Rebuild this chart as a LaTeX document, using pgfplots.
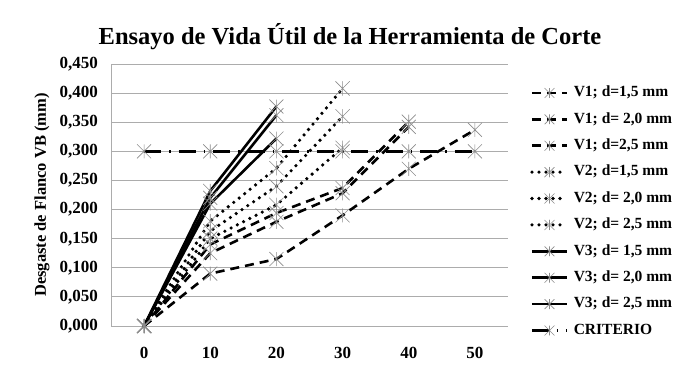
\documentclass[border=0pt]{standalone}
\usepackage{fontspec}
\setmainfont{Liberation Serif}
\usepackage{pgfplots}
\pgfplotsset{compat=1.18}
\pgfdeclareplotmark{xstar}{%
  \pgfpathmoveto{\pgfqpoint{-\pgfplotmarksize}{-\pgfplotmarksize}}%
  \pgfpathlineto{\pgfqpoint{\pgfplotmarksize}{\pgfplotmarksize}}%
  \pgfpathmoveto{\pgfqpoint{-\pgfplotmarksize}{\pgfplotmarksize}}%
  \pgfpathlineto{\pgfqpoint{\pgfplotmarksize}{-\pgfplotmarksize}}%
  \pgfpathmoveto{\pgfqpoint{0pt}{-\pgfplotmarksize}}%
  \pgfpathlineto{\pgfqpoint{0pt}{\pgfplotmarksize}}%
  \pgfusepathqstroke}
\pgfplotsset{
  mk/.style={mark=xstar, mark size=7pt, mark options={solid, draw=gray!90, line width=0.6pt}},
  vone/.style={black, line width=2.6pt, dash pattern=on 9pt off 6pt, mk},
  vtwo/.style={black, line width=3.6pt, line cap=round, dash pattern=on 0pt off 7pt, mk},
  vthree/.style={black, line width=2.6pt, solid, mk},
  crit/.style={black, line width=2.6pt, dash pattern=on 17pt off 8pt on 1.5pt off 8pt, mk},
}
\begin{document}
\begin{tikzpicture}
\useasboundingbox (0pt,0pt) rectangle (700pt,386pt);
\node[font=\fontsize{24.5}{28}\selectfont\bfseries] at (350pt,349pt) {Ensayo de Vida Útil de la Herramienta de Corte};
\begin{axis}[
  at={(111pt,60pt)}, anchor=south west,
  scale only axis, width=397pt, height=262pt,
  xmin=-5, xmax=55, ymin=0, ymax=0.45,
  xtick={0,10,20,30,40,50},
  ytick={0,0.05,0.1,0.15,0.2,0.25,0.3,0.35,0.4,0.45},
  ymajorgrids, grid style={gray!65, line width=0.8pt},
  axis x line*=bottom, axis y line*=left,
  axis line style={gray!65, line width=0.8pt, -},
  major tick length=0pt,
  clip=false,
  /pgf/number format/assume math mode=true,
  tick label style={font=\fontsize{17}{20}\selectfont\bfseries, inner sep=0pt},
  yticklabel style={anchor=east, xshift=-13pt, /pgf/number format/.cd, fixed, fixed zerofill, precision=3, use comma},
  xticklabel style={anchor=north, yshift=-21pt},
  ylabel={Desgaste de Flanco VB (mm)},
  ylabel style={font=\fontsize{16.5}{19}\selectfont\bfseries, at={(axis description cs:-0.174,0.5)}, anchor=center},
  legend cell align=left,
  legend style={at={(axis description cs:1.0554,0.918)}, anchor=north west, draw=none, fill=none, inner sep=0pt,
    font=\fontsize{15.5}{18}\selectfont\bfseries, row sep=11.9pt,
    nodes={inner sep=0pt, text height=11pt, text depth=3.5pt},
    /tikz/every odd column/.append style={column sep=5pt}},
  legend image code/.code={
    \draw[mark repeat=2, mark phase=2, every mark/.append style={scale=0.7}] plot coordinates {(0pt,0pt) (17.5pt,0pt) (35pt,0pt)};
  },
]
\addplot[vone] coordinates {(0,0) (10,0.09) (20,0.115) (30,0.19) (40,0.27) (50,0.337)};
\addlegendentry{V1; d=1,5 mm}
\addplot[vone] coordinates {(0,0) (10,0.125) (20,0.179) (30,0.228) (40,0.342)};
\addlegendentry{V1; d= 2,0 mm}
\addplot[vone] coordinates {(0,0) (10,0.14) (20,0.194) (30,0.237) (40,0.351)};
\addlegendentry{V1; d=2,5 mm}
\addplot[vtwo] coordinates {(0,0) (10,0.18) (20,0.271) (30,0.408)};
\addlegendentry{V2; d=1,5 mm}
\addplot[vtwo] coordinates {(0,0) (10,0.163) (20,0.24) (30,0.36)};
\addlegendentry{V2; d= 2,0 mm}
\addplot[vtwo] coordinates {(0,0) (10,0.15) (20,0.208) (30,0.306)};
\addlegendentry{V2; d= 2,5 mm}
\addplot[vthree] coordinates {(0,0) (10,0.232) (20,0.377)};
\addlegendentry{V3; d= 1,5 mm}
\addplot[vthree] coordinates {(0,0) (10,0.22) (20,0.362)};
\addlegendentry{V3; d= 2,0 mm}
\addplot[vthree] coordinates {(0,0) (10,0.21) (20,0.322)};
\addlegendentry{V3; d= 2,5 mm}
\addplot[crit] coordinates {(0,0.3) (10,0.3) (20,0.3) (30,0.3) (40,0.3) (50,0.3)};
\addlegendentry{CRITERIO}
\end{axis}
\end{tikzpicture}
\end{document}
